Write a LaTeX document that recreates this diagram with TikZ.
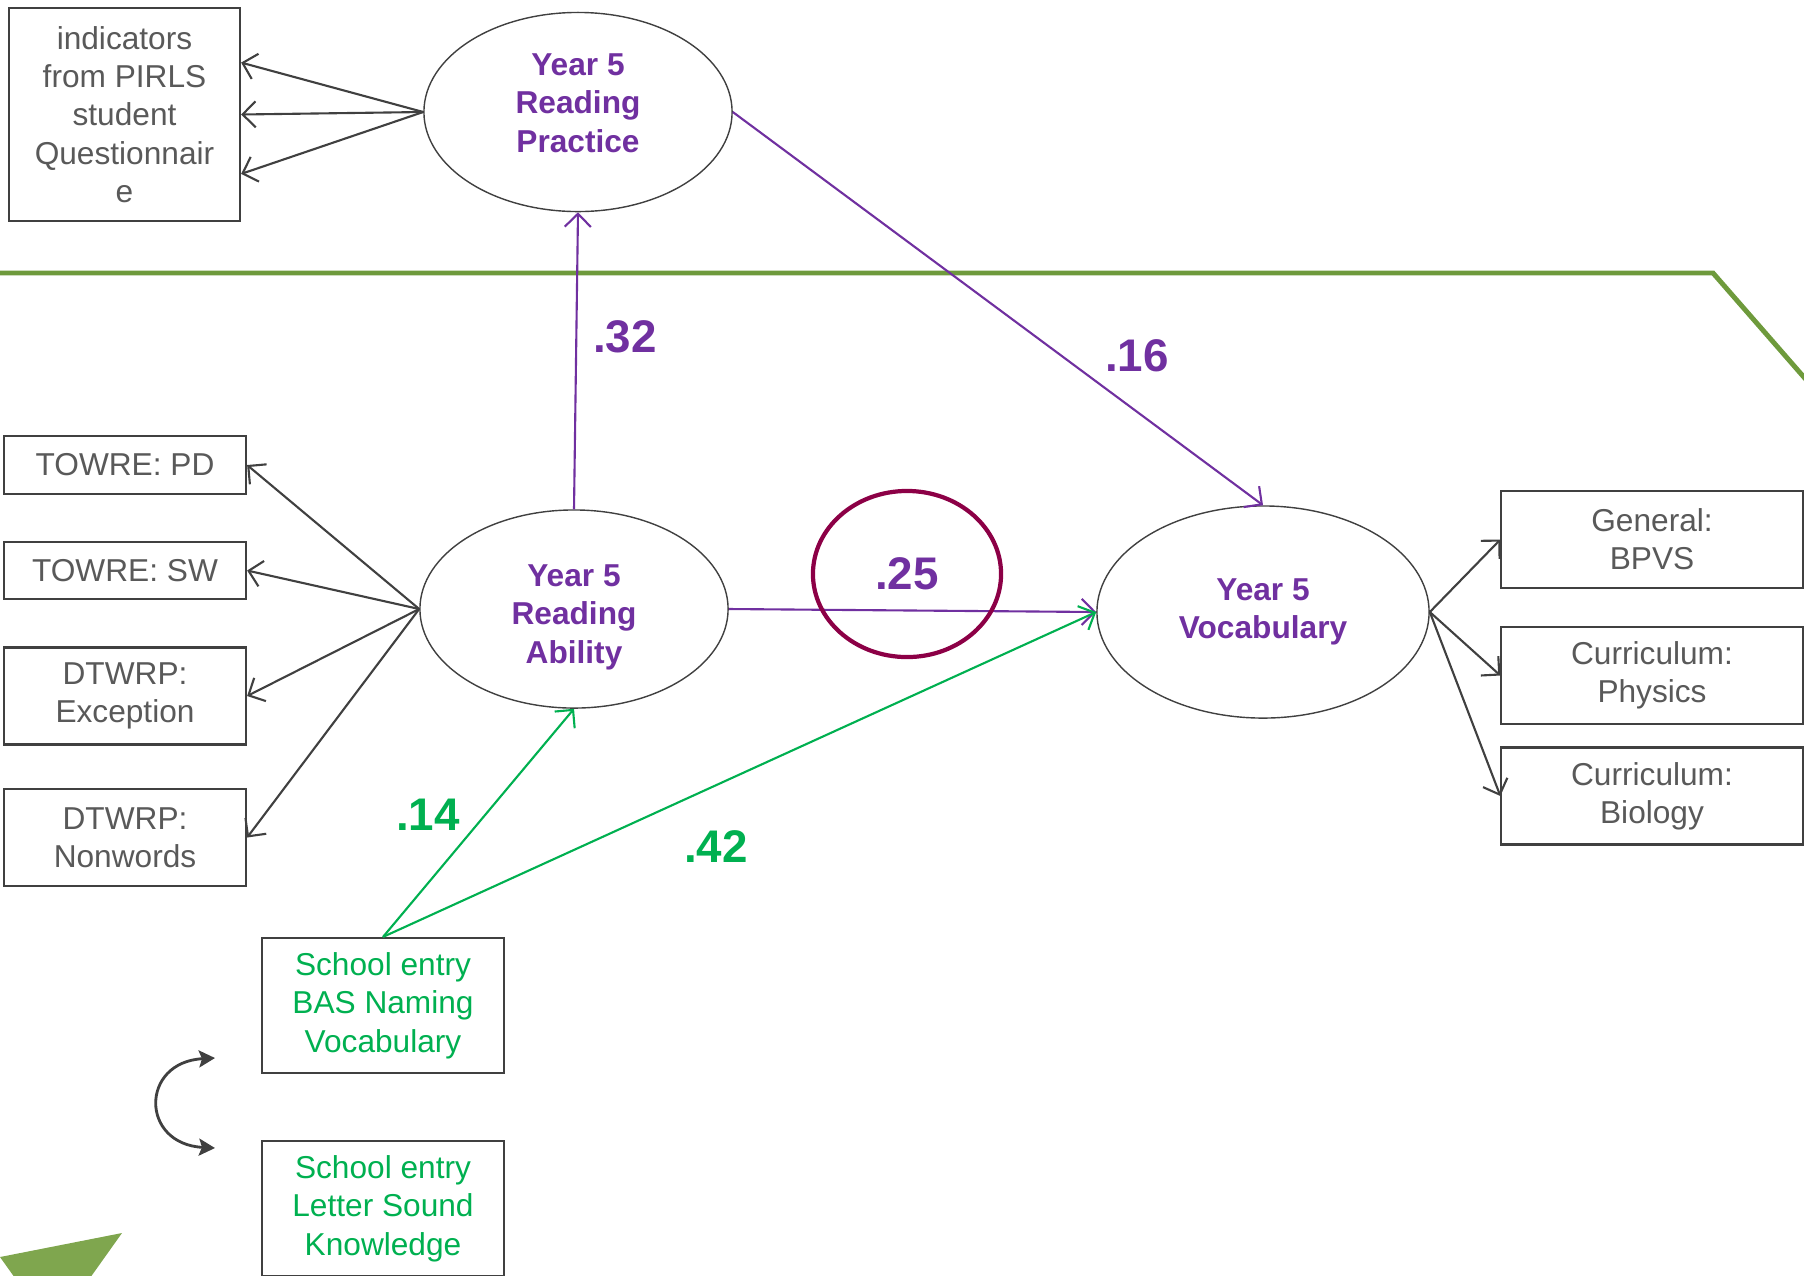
\documentclass[tikz,border=0pt]{standalone}
\usepackage{fontspec}
\setmainfont{Liberation Sans}
\usetikzlibrary{arrows.meta,shapes.geometric}
\definecolor{SemPurple}{HTML}{7030A0}
\definecolor{SemGreen}{HTML}{00B050}
\definecolor{SemGray}{HTML}{595959}
\definecolor{SemLine}{HTML}{404040}
\definecolor{SemOlive}{HTML}{6E9A3C}
\definecolor{SemLeaf}{HTML}{7FA64E}
\definecolor{SemRing}{HTML}{8C0046}

\begin{document}
\begin{tikzpicture}[
  x=0.01cm,y=-0.01cm,
  font=\fontsize{9}{10.9}\selectfont,
  box/.style={draw=SemLine,line width=0.6pt,inner sep=0pt,align=center,text=SemGray},
  latent/.style={ellipse,draw=SemLine,line width=0.4pt,inner sep=0pt,align=center,text=SemPurple,font=\fontsize{9}{10.9}\selectfont\bfseries},
  arr/.style={-{Straight Barb[length=1.3mm,width=2.6mm]},line width=0.6pt,draw=SemLine},
  parr/.style={arr,draw=SemPurple},
  garr/.style={arr,draw=SemGreen},
  coef/.style={font=\fontsize{13}{15}\selectfont\bfseries}
]
  \useasboundingbox (0,0) rectangle (1804,1275);
  \draw[SemOlive,line width=1.4pt] (0,273) -- (1713,273) -- (1850,430);
  \fill[SemLeaf] (0,1257) -- (122,1233) -- (85,1285) -- (20,1285) -- cycle;

  \node[box,minimum width=2.31cm,minimum height=2.13cm] (pirls) at (124.5,114.5) {indicators\\from PIRLS\\student\\Questionnair\\e};
  \node[latent,minimum width=3.08cm,minimum height=1.99cm] (rp) at (578,112) {Year 5\\Reading\\Practice\\[-2mm]};
  \node[latent,minimum width=3.08cm,minimum height=1.98cm] (ra) at (574,609) {\\[0mm]Year 5\\Reading\\Ability};
  \node[latent,minimum width=3.32cm,minimum height=2.12cm] (voc) at (1263,612) {Year 5\\Vocabulary};

  \node[box,minimum width=2.42cm,minimum height=0.58cm] (pd) at (125,465) {TOWRE: PD};
  \node[box,minimum width=2.42cm,minimum height=0.57cm] (sw) at (125,570.5) {TOWRE: SW};
  \node[box,minimum width=2.42cm,minimum height=0.97cm] (exc) at (125,696) {DTWRP:\\Exception};
  \node[box,minimum width=2.42cm,minimum height=0.97cm] (non) at (125,837.5) {DTWRP:\\Nonwords};

  \node[box,minimum width=3.01cm,minimum height=0.97cm] (gen) at (1652,539.5) {General:\\BPVS};
  \node[box,minimum width=3.01cm,minimum height=0.97cm] (phy) at (1652,675.5) {Curriculum:\\Physics};
  \node[box,minimum width=3.01cm,minimum height=0.97cm] (bio) at (1652,796) {Curriculum:\\Biology};

  \node[box,text=SemGreen,minimum width=2.42cm,minimum height=1.35cm] (bas) at (383,1005.5) {School entry\\BAS Naming\\Vocabulary};
  \node[box,text=SemGreen,minimum width=2.42cm,minimum height=1.35cm] (lsk) at (383,1208.5) {School entry\\Letter Sound\\Knowledge};

  \draw[arr] (rp.west) -- (pirls.24);
  \draw[arr] (rp.west) -- (pirls.east);
  \draw[arr] (rp.west) -- (pirls.-27);
  \foreach \t in {pd,sw,exc,non}
    \draw[arr] (ra.west) -- (\t.east);
  \foreach \t in {gen,phy,bio}
    \draw[arr] (voc.east) -- (\t.west);

  \draw[parr] (ra.north) -- (rp.south);
  \draw[parr] (rp.east) -- (voc.north);
  \draw[parr] (ra.east) -- (voc.west);
  \draw[garr] (bas.north) -- (ra.south);
  \draw[garr] (bas.north) -- (voc.west);

  \coordinate (cvtop) at (215,1058);
  \coordinate (cvbot) at (215,1148);
  \draw[{Stealth[length=1.6mm,width=1.7mm,inset=0.3mm]}-{Stealth[length=1.6mm,width=1.7mm,inset=0.3mm]},draw=SemLine,line width=0.8pt] (cvtop) .. controls (140,1062) and (140,1144) .. (cvbot);

  \node[coef,text=SemPurple] (c32) at (625,337) {.32};
  \node[coef,text=SemPurple] (c16) at (1137,356) {.16};
  \node[coef,text=SemGreen] (c14) at (428,815) {.14};
  \node[coef,text=SemGreen] (c42) at (716,847) {.42};
  \node[coef,text=SemPurple,ellipse,draw=SemRing,line width=1.2pt,minimum width=1.88cm,minimum height=1.66cm,inner sep=0pt] (c25) at (907,574) {.25};
\end{tikzpicture}
\end{document}
